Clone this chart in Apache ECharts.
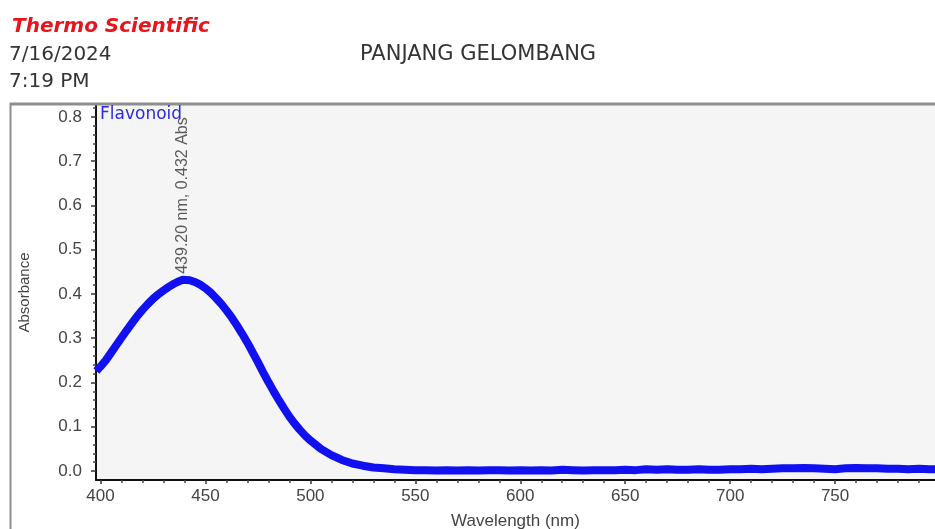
<!DOCTYPE html>
<html>
<head>
<meta charset="utf-8">
<script src="https://cdn.jsdelivr.net/npm/echarts@6/dist/echarts.min.js"></script>
<style>
  html, body { margin: 0; padding: 0; background: #ffffff; }
  #chart { width: 935px; height: 529px; }
</style>
</head>
<body>
<div id="chart"></div>
<script>
// Flavonoid absorption spectrum
const wavelengthNm = [
  398, 400, 402.5, 405, 407.5, 410, 412.5, 415, 417.5, 420, 422.5, 425, 427.5, 430, 432.5, 435, 437.5, 439.2,
  442.5, 445, 447.5, 450, 452.5, 455, 457.5, 460, 462.5, 465, 467.5, 470, 472.5, 475, 477.5, 480,
  482.5, 485, 487.5, 490, 492.5, 495, 497.5, 500, 505, 510, 515, 520, 525, 530, 535, 540, 545, 550,
  555, 560, 565, 570, 575, 580, 585, 590, 595, 600, 605, 610, 615, 620, 625, 630, 635, 640, 645, 650,
  655, 660, 665, 670, 675, 680, 685, 690, 695, 700, 705, 710, 715, 720, 725, 730, 735, 740, 745, 750,
  755, 760, 765, 770, 775, 780, 785, 790, 795, 800
];
const absorbance = [
  0.226, 0.236, 0.250, 0.267, 0.284, 0.301, 0.318, 0.334, 0.350, 0.364, 0.377, 0.389, 0.399, 0.408, 0.416, 0.423, 0.429, 0.432,
  0.431, 0.427, 0.421, 0.413, 0.403, 0.391, 0.378, 0.363, 0.347, 0.329, 0.310, 0.290, 0.268, 0.246, 0.223, 0.201,
  0.180, 0.160, 0.141, 0.123, 0.107, 0.093, 0.080, 0.069, 0.050, 0.036, 0.025, 0.017, 0.012, 0.008, 0.006, 0.004, 0.003, 0.002,
  0.002, 0.001, 0.002, 0.001, 0.002, 0.001, 0.002, 0.002, 0.001, 0.002, 0.001, 0.002, 0.001, 0.003, 0.002, 0.001, 0.002, 0.002, 0.002, 0.003,
  0.002, 0.004, 0.003, 0.004, 0.003, 0.003, 0.004, 0.003, 0.003, 0.004, 0.004, 0.005, 0.004, 0.005, 0.006, 0.006, 0.007, 0.006, 0.005, 0.004,
  0.006, 0.007, 0.006, 0.006, 0.005, 0.005, 0.004, 0.005, 0.004, 0.004
];
// Peak marker
const peakWavelength = [439.2];
const peakAbsorbance = [0.432];

// Axis tick values
const xTickLabels = [400, 450, 500, 550, 600, 650, 700, 750];
const xMinorTicks = [410, 420, 430, 440, 460, 470, 480, 490, 510, 520, 530, 540, 560, 570, 580, 590,
  610, 620, 630, 640, 660, 670, 680, 690, 710, 720, 730, 740, 760, 770, 780, 790];
const yTickLabels = [0.0, 0.1, 0.2, 0.3, 0.4, 0.5, 0.6, 0.7, 0.8];
const yMinorTicks = [0.02, 0.04, 0.06, 0.08, 0.12, 0.14, 0.16, 0.18, 0.22, 0.24, 0.26, 0.28,
  0.32, 0.34, 0.36, 0.38, 0.42, 0.44, 0.46, 0.48, 0.52, 0.54, 0.56, 0.58, 0.62, 0.64, 0.66, 0.68,
  0.72, 0.74, 0.76, 0.78, 0.82];

const X_MIN = 397.86, X_MAX = 797.6;
const Y_MIN = -0.0203, Y_MAX = 0.827;

const spectrum = wavelengthNm.map((w, i) => [w, absorbance[i]]);
const peak = peakWavelength.map((w, i) => [w, peakAbsorbance[i]]);

const axisFont = 'Liberation Sans, Arial, sans-serif';

const chart = echarts.init(document.getElementById('chart'), null, { renderer: 'canvas' });

chart.setOption({
  animation: false,
  backgroundColor: '#ffffff',
  grid: {
    left: 96, right: 0, top: 105, bottom: 49,
    outerBoundsMode: 'none',
    containLabel: false,
    show: true, backgroundColor: '#f5f5f5', borderWidth: 0
  },
  xAxis: [
    {
      type: 'value', min: X_MIN, max: X_MAX,
      name: 'Wavelength (nm)', nameLocation: 'middle', nameGap: 33,
      nameTextStyle: { fontFamily: axisFont, fontSize: 17, color: '#444' },
      axisLine: { show: true, onZero: false, lineStyle: { color: '#111', width: 2 } },
      axisTick: { show: true, customValues: xTickLabels, length: 4, lineStyle: { color: '#333', width: 1.5 } },
      axisLabel: { customValues: xTickLabels, margin: 8, fontFamily: axisFont, fontSize: 17, color: '#444' },
      splitLine: { show: false }
    },
    {
      type: 'value', min: X_MIN, max: X_MAX, position: 'bottom',
      axisLine: { show: false, onZero: false },
      axisTick: { show: true, customValues: xMinorTicks, length: 3, lineStyle: { color: '#444', width: 1.5 } },
      axisLabel: { show: false },
      splitLine: { show: false }
    }
  ],
  yAxis: [
    {
      type: 'value', min: Y_MIN, max: Y_MAX,
      name: 'Absorbance', nameLocation: 'middle', nameGap: 64, nameRotate: 90,
      nameTextStyle: { fontFamily: axisFont, fontSize: 15, color: '#444' },
      axisLine: { show: true, onZero: false, lineStyle: { color: '#111', width: 2 } },
      axisTick: { show: true, customValues: yTickLabels, length: 5, lineStyle: { color: '#333', width: 1.5 } },
      axisLabel: {
        customValues: yTickLabels, margin: 14, fontFamily: axisFont, fontSize: 17, color: '#444',
        formatter: v => v.toFixed(1)
      },
      splitLine: { show: false }
    },
    {
      type: 'value', min: Y_MIN, max: Y_MAX, position: 'left',
      axisLine: { show: false, onZero: false },
      axisTick: { show: true, customValues: yMinorTicks, length: 3, lineStyle: { color: '#444', width: 1.5 } },
      axisLabel: { show: false },
      splitLine: { show: false }
    }
  ],
  series: [
    {
      name: 'Flavonoid',
      type: 'line',
      data: spectrum,
      showSymbol: false,
      smooth: false,
      lineStyle: { color: '#1010f0', width: 8 },
      itemStyle: { color: '#1010f0' },
      z: 3
    },
    {
      name: 'peak',
      type: 'scatter',
      data: peak,
      symbolSize: 0,
      label: {
        show: true,
        position: 'top',
        distance: 6,
        rotate: 90,
        align: 'left',
        verticalAlign: 'middle',
        fontFamily: axisFont,
        fontSize: 16,
        color: '#333',
        formatter: p => p.value[0].toFixed(2) + ' nm, ' + p.value[1].toFixed(3) + ' Abs'
      },
      z: 4
    }
  ],
  graphic: [
    // frame around the plot region
    { type: 'line', shape: { x1: 10, y1: 104, x2: 935, y2: 104 }, style: { stroke: '#8e8e8e', lineWidth: 3 }, z: 100 },
    { type: 'line', shape: { x1: 10.5, y1: 103, x2: 10.5, y2: 529 }, style: { stroke: '#8e8e8e', lineWidth: 2 }, z: 100 },
    // header
    { type: 'text', left: 12, top: 17, z: 100,
      style: { text: 'Thermo Scientific', fill: '#e8141b', font: 'italic bold 20px "DejaVu Sans", Verdana, sans-serif' } },
    { type: 'text', left: 9, top: 45, z: 100,
      style: { text: '7/16/2024', fill: '#333', font: '20px "DejaVu Sans", Verdana, sans-serif' } },
    { type: 'text', left: 9, top: 72, z: 100,
      style: { text: '7:19 PM', fill: '#333', font: '20px "DejaVu Sans", Verdana, sans-serif' } },
    { type: 'text', left: 360, top: 44, z: 100,
      style: { text: 'PANJANG GELOMBANG', fill: '#333', font: '21px "DejaVu Sans", Verdana, sans-serif' } },
    // legend entry
    { type: 'text', left: 100, top: 106, z: 100,
      style: { text: 'Flavonoid', fill: '#2b2bdc', font: '17px "DejaVu Sans", Verdana, sans-serif' } }
  ]
});
</script>
</body>
</html>
